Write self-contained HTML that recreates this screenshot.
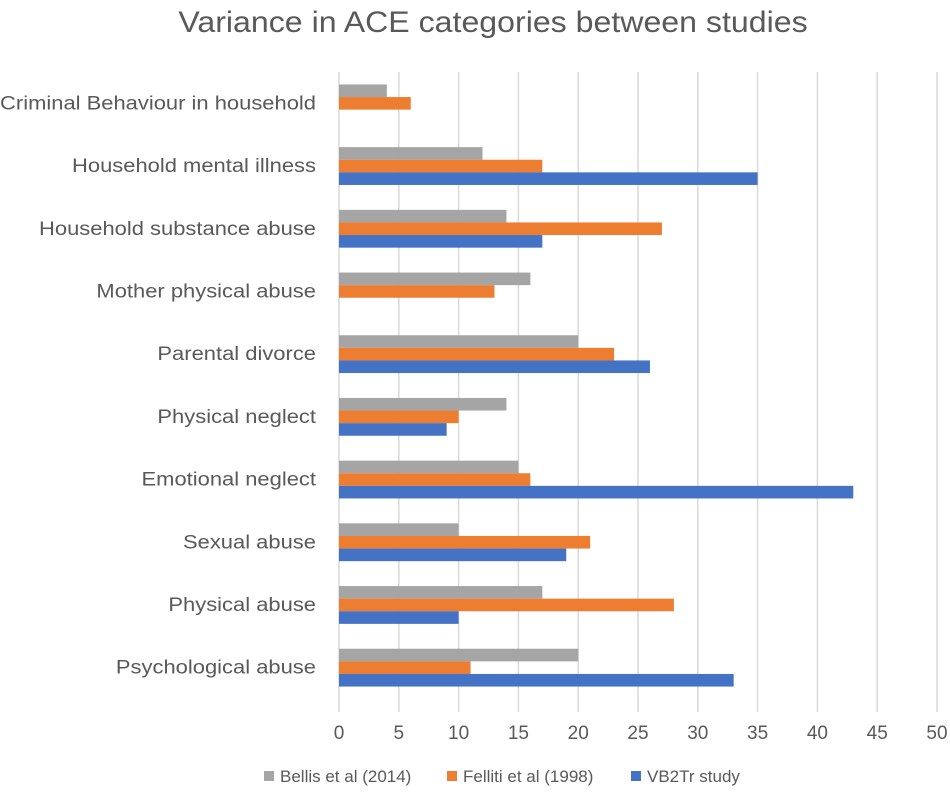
<!DOCTYPE html>
<html><head><meta charset="utf-8"><style>
body{margin:0;background:#fff;}
svg text{font-family:"Liberation Sans",sans-serif;fill:#595959;}
</style></head><body>
<svg id="c" width="950" height="798">
<text id="title" x="493" y="32" font-size="30" text-anchor="middle">Variance in ACE categories between studies</text>
<g id="grid"></g><g id="bars"></g><g id="labels"></g><g id="ticks"></g>
<g id="legend">
<rect x="264" y="771" width="10" height="10" fill="#a5a5a5"/>
<text x="280" y="782" font-size="17">Bellis et al (2014)</text>
<rect x="447" y="771" width="10" height="10" fill="#ed7d31"/>
<text x="463" y="782" font-size="17">Felliti et al (1998)</text>
<rect x="631" y="771" width="10" height="10" fill="#4472c4"/>
<text x="647" y="782" font-size="17">VB2Tr study</text>
</g>
</svg>
<script>
const categories=["Criminal Behaviour in household","Household mental illness","Household substance abuse","Mother physical abuse","Parental divorce","Physical neglect","Emotional neglect ","Sexual abuse","Physical abuse","Psychological abuse"];
const bellis=[4,12,14,16,20,14,15,10,17,20];
const felliti=[6,17,27,13,23,10,16,21,28,11];
const vb2tr=[null,35,17,null,26,9,43,19,10,33];
const ticks=[0,5,10,15,20,25,30,35,40,45,50];
const NS="http://www.w3.org/2000/svg";
const x0=339,x1=937,xmax=50,plotTop=72,band=62.7,bh=12.6;
const xs=v=>x0+(x1-x0)*v/xmax;
const yc=i=>plotTop+band*(i+0.5);
function mk(tag,attrs,parent){const e=document.createElementNS(NS,tag);for(const k in attrs)e.setAttribute(k,attrs[k]);document.getElementById(parent).appendChild(e);return e;}
function widen(el,k){const w=el.getComputedTextLength();el.setAttribute('textLength',w*k);el.setAttribute('lengthAdjust','spacingAndGlyphs');}
ticks.forEach(t=>{
 const l=mk('line',{x1:xs(t),x2:xs(t),y1:plotTop,y2:712,stroke:'#d9d9d9','stroke-width':1.5},'grid');
 
 
 const tx=mk('text',{x:xs(t),y:739,'font-size':19,'text-anchor':'middle'},'ticks');
 tx.textContent=t;
 
 
});
const series=[[bellis,'#a5a5a5','bellis'],[felliti,'#ed7d31','felliti'],[vb2tr,'#4472c4','vb2tr']];
categories.forEach((c,i)=>{
 const tx=mk('text',{x:316,y:yc(i)+6,'font-size':19,'text-anchor':'end'},'labels');
 tx.textContent=c;
 
 
 widen(tx,1.155);
 series.forEach((s,j)=>{
  const v=s[0][i]; if(v==null)return;
  const r=mk('rect',{x:x0,y:yc(i)-1.5*bh+j*bh,width:xs(v)-x0,height:bh,fill:s[1]},'bars');
  
  
 });
});
widen(document.getElementById('title'),1.07);
</script>
</body></html>
